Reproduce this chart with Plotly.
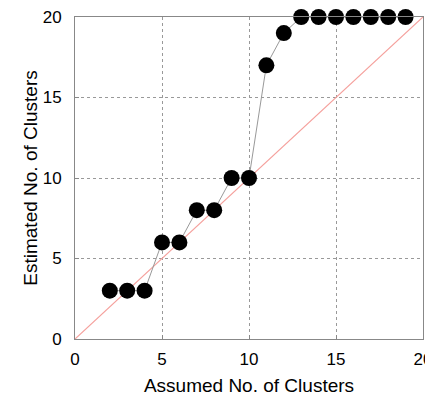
import plotly.graph_objects as go

assumed = [2, 3, 4, 5, 6, 7, 8, 9, 10, 11, 12, 13, 14, 15, 16, 17, 18, 19]
estimated = [3, 3, 3, 6, 6, 8, 8, 10, 10, 17, 19, 20, 20, 20, 20, 20, 20, 20]
diag = [0, 20]
tick_vals = [0, 5, 10, 15, 20]

FONT = "Liberation Sans, Arial"

fig = go.Figure()
fig.add_trace(go.Scatter(x=diag, y=diag, mode="lines",
                         line=dict(color="#f5a09c", width=1.2), showlegend=False))
fig.add_trace(go.Scatter(x=assumed, y=estimated, mode="lines+markers",
                         line=dict(color="#999999", width=1),
                         marker=dict(color="black", size=16),
                         showlegend=False, cliponaxis=False))

axis_common = dict(range=[0, 20], tickvals=tick_vals, showgrid=True,
                   gridcolor="#999999", griddash="dot", gridwidth=1,
                   showline=True, linecolor="#888888", linewidth=1, mirror=True,
                   zeroline=False, ticks="inside", ticklen=4, tickcolor="#888888",
                   automargin=False, ticklabeloverflow="allow",
                   tickfont=dict(family=FONT, size=17, color="black"))

# page body has an 8px default margin, so the figure is sized to fit the 433x396 window
fig.update_layout(
    width=425, height=388,
    margin=dict(l=67, r=10, t=9, b=57),
    plot_bgcolor="white", paper_bgcolor="white",
    xaxis=dict(**axis_common, ticklabelstandoff=5,
               title=dict(text="Assumed No. of Clusters", standoff=11,
                          font=dict(family=FONT, size=19, color="black"))),
    yaxis=dict(**axis_common, ticklabelstandoff=9,
               title=dict(text="Estimated No. of Clusters", standoff=0,
                          font=dict(family=FONT, size=19, color="black"))),
)
fig.write_html("out.html")
